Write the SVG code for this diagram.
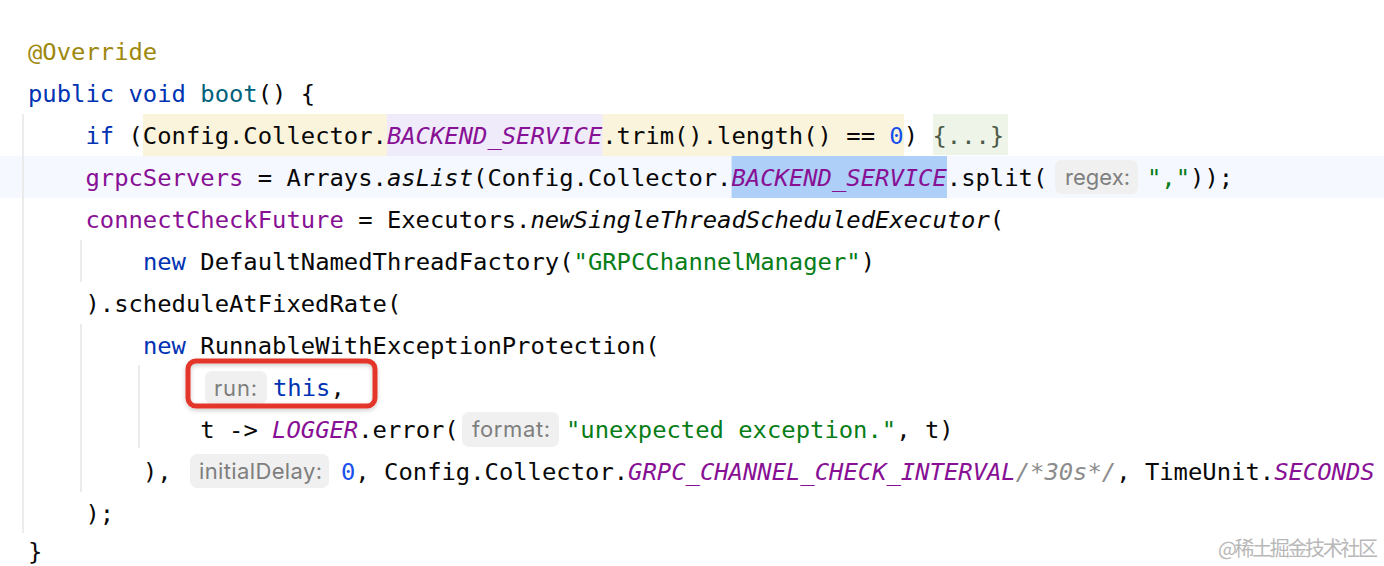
<svg xmlns="http://www.w3.org/2000/svg" width="1384" height="566" viewBox="0 0 1384 566" xml:space="preserve">
<defs>
<style>
.code{font-family:"DejaVu Sans Mono","Liberation Mono",monospace;font-size:23.85px;fill:#080808}
.kw{fill:#0033B3}
.fn{fill:#00627A}
.ann{fill:#9E880D}
.fld{fill:#871094}
.it{font-style:italic}
.num{fill:#1750EB}
.str{fill:#067D17}
.cmt{fill:#8C8C8C;font-style:italic}
.fold{fill:#4D5A47}
.hintbox{fill:#F0F0F0}
.hint{font-family:Inter,"Noto Sans","Liberation Sans",sans-serif;font-size:22px;fill:#7E7E7E}
.guide{stroke:#E6E6E6;stroke-width:1.5;fill:none}
.wm{font-family:"Noto Sans CJK SC","Noto Sans",sans-serif;font-size:20px;fill:#B8B8B8}
</style>
<filter id="sh" x="-10%" y="-20%" width="120%" height="150%">
<feDropShadow dx="0" dy="2" stdDeviation="2" flood-color="#000" flood-opacity="0.2"/>
</filter>
</defs>
<rect width="1384" height="566" fill="#FFFFFF"/>

<g id="backgrounds">
<rect x="0" y="156" width="1384" height="42" fill="#F5F8FE"/>
<rect x="142.9" y="114" width="761.1" height="42" fill="#FBF4DC"/>
<rect x="387" y="114" width="215.4" height="42" fill="#EFEBFB"/>
<rect x="933" y="114" width="75" height="41" fill="#EEF4E8"/>
<rect x="731.6" y="156" width="215.4" height="42" fill="#ADCFF8"/>
</g>

<g id="indent-guides">
<line class="guide" x1="23" y1="114" x2="23" y2="533"/>
<line class="guide" x1="81" y1="240" x2="81" y2="282"/>
<line class="guide" x1="81" y1="324" x2="81" y2="492"/>
<line class="guide" x1="139" y1="365" x2="139" y2="448"/>
</g>

<g id="hints">
<rect class="hintbox" x="1055" y="160" width="83" height="34" rx="7"/>
<text class="hint" x="1065" y="185" textLength="65">regex:</text>
<rect class="hintbox" x="205" y="371" width="62" height="33" rx="7"/>
<text class="hint" x="214" y="395.5" textLength="43">run:</text>
<rect class="hintbox" x="462" y="412" width="97" height="35" rx="7"/>
<text class="hint" x="472" y="437" textLength="78">format:</text>
<rect class="hintbox" x="190" y="454" width="139" height="34" rx="7"/>
<text class="hint" x="199" y="479" textLength="123">initialDelay:</text>
</g>

<g id="code">
<text class="code" x="28" y="59.5"><tspan class="ann">@Override</tspan></text>
<text class="code" x="28" y="101.5"><tspan class="kw">public void</tspan> <tspan class="fn">boot</tspan>() {</text>
<text class="code" x="85.44" y="143.5"><tspan class="kw">if</tspan> (Config.Collector.<tspan class="fld it">BACKEND_SERVICE</tspan>.trim().length() == <tspan class="num">0</tspan>) <tspan class="fold">{...}</tspan></text>
<text class="code" x="85.44" y="185.5"><tspan class="fld">grpcServers</tspan> = Arrays.<tspan class="it">asList</tspan>(Config.Collector.<tspan class="fld it">BACKEND_SERVICE</tspan>.split(</text>
<text class="code" x="1147" y="185.5"><tspan class="str">","</tspan>));</text>
<text class="code" x="85.44" y="227.5"><tspan class="fld">connectCheckFuture</tspan> = Executors.<tspan class="it">newSingleThreadScheduledExecutor</tspan>(</text>
<text class="code" x="142.88" y="269.5"><tspan class="kw">new</tspan> DefaultNamedThreadFactory(<tspan class="str">"GRPCChannelManager"</tspan>)</text>
<text class="code" x="85.44" y="311.5">).scheduleAtFixedRate(</text>
<text class="code" x="142.88" y="353.5"><tspan class="kw">new</tspan> RunnableWithExceptionProtection(</text>
<text class="code" x="273" y="395.5"><tspan class="kw">this</tspan>,</text>
<text class="code" x="200.32" y="437.5">t -&gt; <tspan class="fld it">LOGGER</tspan>.error(</text>
<text class="code" x="566" y="437.5"><tspan class="str">"unexpected exception."</tspan>, t)</text>
<text class="code" x="142.88" y="479.5">),</text>
<text class="code" x="341" y="479.5"><tspan class="num">0</tspan>, Config.Collector.<tspan class="fld it">GRPC_CHANNEL_CHECK_INTERVAL</tspan><tspan class="cmt">/*30s*/</tspan>, TimeUnit.<tspan class="fld it">SECONDS</tspan></text>
<text class="code" x="85.44" y="521.5">);</text>
<text class="code" x="28" y="560">}</text>
</g>

<g id="highlight-box">
<rect x="188" y="361" width="187" height="45" rx="8" fill="none" stroke="#E3362A" stroke-width="5" filter="url(#sh)"/>
</g>

<text class="wm" x="1218" y="556" textLength="160">@稀土掘金技术社区</text>
</svg>
